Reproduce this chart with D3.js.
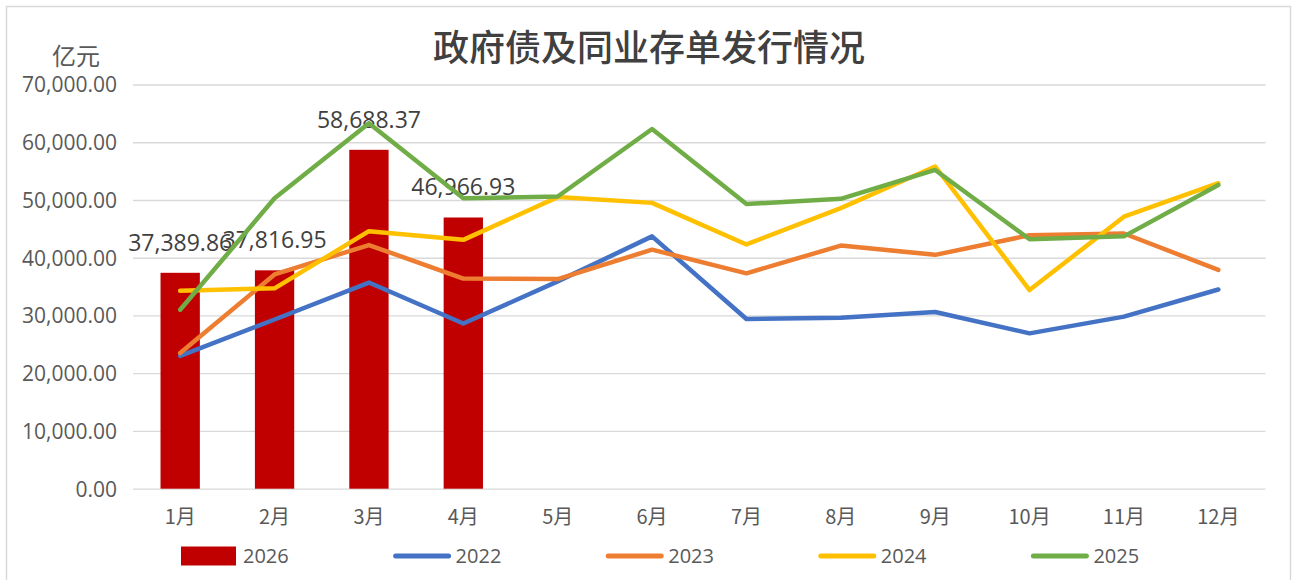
<!DOCTYPE html>
<html>
<head>
<meta charset="utf-8">
<script src="https://cdn.jsdelivr.net/npm/d3@7"></script>
<style>
  body { margin: 0; background: #fff; }
  text { font-family: "Open Sans", "Noto Sans CJK SC", sans-serif; }
</style>
</head>
<body>
<div class="chart"></div>
<script>
var months = ["1月","2月","3月","4月","5月","6月","7月","8月","9月","10月","11月","12月"];
var yTicks = [0, 10000, 20000, 30000, 40000, 50000, 60000, 70000];

// 2026 bars (only Jan-Apr)
var bars2026 = [37389.86, 37816.95, 58688.37, 46966.93];

var s2022 = [23000, 29300, 35700, 28600, 35900, 43700, 29400, 29600, 30600, 26900, 29800, 34500];
var s2023 = [23500, 37100, 42200, 36400, 36300, 41400, 37300, 42100, 40500, 43900, 44200, 37900];
var s2024 = [34300, 34700, 44600, 43100, 50500, 49500, 42300, 48600, 55800, 34400, 47100, 52900];
var s2025 = [31000, 50300, 63300, 50300, 50600, 62300, 49300, 50200, 55200, 43200, 43700, 52600];

var lineNames = ["2022", "2023", "2024", "2025"];
var lineData = [s2022, s2023, s2024, s2025];
var lineColors = ["#4472C4", "#ED7D31", "#FFC000", "#70AD47"];
var barColor = "#C00000";

var W = 1295, H = 580;
var margin = {top: 84.5, right: 29.5, bottom: 91.3, left: 133};

var svg = d3.select(".chart").append("svg")
  .attr("width", W).attr("height", H);

// chart frame
svg.append("rect")
  .attr("x", 6.5).attr("y", 6.5)
  .attr("width", 1284).attr("height", 580)
  .attr("fill", "#fff").attr("stroke", "#d9d9d9").attr("stroke-width", 1.5);

var x = d3.scaleBand().domain(months)
  .range([margin.left, W - margin.right]);
var y = d3.scaleLinear().domain([0, 70000])
  .range([H - margin.bottom, margin.top]);

// gridlines + y labels
var yAxis = d3.axisLeft(y).tickValues(yTicks)
  .tickFormat(d3.format(",.2f"))
  .tickSize(-(W - margin.right - margin.left)).tickPadding(16);
var gy = svg.append("g").attr("transform", "translate(" + margin.left + ",0)").call(yAxis);
gy.select(".domain").remove();
gy.selectAll(".tick line").attr("stroke", "#d9d9d9").attr("stroke-width", 1.3);
gy.selectAll(".tick text").attr("fill", "#595959").style("font-size", "21px").attr("dy", "0.35em");

// x labels
var xAxis = d3.axisBottom(x).tickSize(0).tickPadding(21);
var gx = svg.append("g").attr("transform", "translate(0," + y(0) + ")").call(xAxis);
gx.select(".domain").remove();
gx.selectAll(".tick text").attr("fill", "#595959")
  .style("font-size", "20px").style("font-family", "'Noto Sans CJK SC', sans-serif");

// bars
var barW = x.bandwidth() / 2.4;
svg.selectAll(".bar").data(bars2026).enter().append("rect")
  .attr("class", "bar")
  .attr("x", function(d, i) { return x(months[i]) + x.bandwidth() / 2 - barW / 2; })
  .attr("y", function(d) { return y(d); })
  .attr("width", barW)
  .attr("height", function(d) { return y(0) - y(d); })
  .attr("fill", barColor);

// bar value labels
svg.selectAll(".blabel").data(bars2026).enter().append("text")
  .attr("class", "blabel")
  .attr("x", function(d, i) { return x(months[i]) + x.bandwidth() / 2; })
  .attr("y", function(d) { return y(d) - 22; })
  .attr("text-anchor", "middle")
  .attr("fill", "#404040")
  .style("font-size", "23px")
  .text(function(d) { return d3.format(",.2f")(d); });

// lines
var line = d3.line()
  .x(function(d, i) { return x(months[i]) + x.bandwidth() / 2; })
  .y(function(d) { return y(d); });

lineData.forEach(function(s, k) {
  svg.append("path").datum(s)
    .attr("d", line)
    .attr("fill", "none")
    .attr("stroke", lineColors[k])
    .attr("stroke-width", 4.5)
    .attr("stroke-linejoin", "round")
    .attr("stroke-linecap", "round");
});

// title
svg.append("text")
  .attr("x", 649).attr("y", 61)
  .attr("text-anchor", "middle")
  .attr("fill", "#404040")
  .style("font-family", "'Noto Sans CJK SC', sans-serif")
  .style("font-size", "36px")
  .style("font-weight", 500)
  .text("政府债及同业存单发行情况");

// unit label
svg.append("text")
  .attr("x", 76).attr("y", 65)
  .attr("text-anchor", "middle")
  .attr("fill", "#595959")
  .style("font-family", "'Noto Sans CJK SC', sans-serif")
  .style("font-size", "24px")
  .text("亿元");

// legend
var legNames = ["2026"].concat(lineNames);
var legColors = [barColor].concat(lineColors);
var leg = svg.selectAll(".leg").data(legNames).enter().append("g")
  .attr("class", "leg")
  .attr("transform", function(d, i) { return "translate(" + (181 + i * 212.6) + ",556)"; });
leg.each(function(d, i) {
  var g = d3.select(this);
  if (i === 0) {
    g.append("rect").attr("x", 0).attr("y", -9.5).attr("width", 55).attr("height", 19)
      .attr("fill", legColors[i]);
  } else {
    g.append("line").attr("x1", 2).attr("x2", 55).attr("y1", 0).attr("y2", 0)
      .attr("stroke", legColors[i]).attr("stroke-width", 5).attr("stroke-linecap", "round");
  }
  g.append("text").attr("x", 62).attr("y", 0).attr("dy", "0.36em")
    .attr("fill", "#595959").style("font-size", "20px").text(d);
});
</script>
</body>
</html>
